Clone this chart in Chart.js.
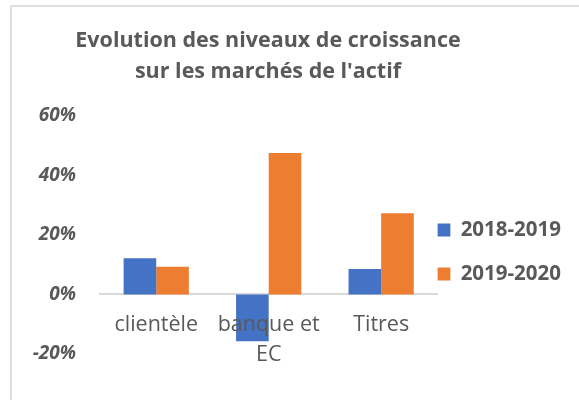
<!DOCTYPE html>
<html>
<head>
<meta charset="utf-8">
<script src="https://cdn.jsdelivr.net/npm/chart.js@4/dist/chart.umd.min.js"></script>
<style>
    body { margin: 0; overflow: hidden; background: #fff; }
    #frame { position: absolute; left: 10px; top: 5px; width: 620px; height: 420px; border: 2px solid #e0e0e0; }
    /* canvas starts left of the window so the full-width title centres over the plot */
    #wrap { position: absolute; left: -35px; top: 0; width: 614px; height: 400px; }
</style>
</head>
<body>
<div id="frame"></div>
<div id="wrap"><canvas id="growthChart"></canvas></div>
<script>
const categories = ["clientèle", ["banque et", "EC"], "Titres"];
const seriesNames = ["2018-2019", "2019-2020"];
const growth1819 = [12.2, -15.7, 8.6];
const growth1920 = [9.3, 47.5, 27.3];
const yTicks = [-20, 0, 20, 40, 60];

const textColor = "#595959";
const fontName = "'Open Sans'";

document.addEventListener("DOMContentLoaded", () => {
    const ctx = document.getElementById("growthChart").getContext("2d");

    new Chart(ctx, {
        type: "bar",
        data: {
            labels: categories,
            datasets: [
                { label: seriesNames[0], data: growth1819, backgroundColor: "#4472C4" },
                { label: seriesNames[1], data: growth1920, backgroundColor: "#ED7D31" }
            ]
        },
        options: {
            responsive: true,
            maintainAspectRatio: false,
            animation: false,
            layout: { padding: { left: 0, right: 8, top: 1, bottom: 46 } },
            datasets: { bar: { categoryPercentage: 0.58, barPercentage: 1.0 } },
            scales: {
                x: {
                    position: { y: 0 },
                    grid: { display: false, drawTicks: false },
                    border: { display: true, color: "#d9d9d9", width: 2 },
                    ticks: {
                        z: 1, // labels sit on top of the negative bar
                        color: textColor,
                        padding: 15,
                        maxRotation: 0,
                        font: { family: fontName, size: 21.5, lineHeight: 1.4 }
                    }
                },
                y: {
                    min: yTicks[0],
                    max: yTicks[yTicks.length - 1],
                    grid: { display: false, drawTicks: false },
                    border: { display: false },
                    afterBuildTicks: scale => { scale.ticks = yTicks.map(v => ({ value: v })); },
                    afterFit: scale => { scale.width = 135; },
                    ticks: {
                        color: textColor,
                        padding: 24,
                        callback: v => v + "%",
                        font: { family: fontName, size: 19, weight: "bold", style: "italic" }
                    }
                }
            },
            plugins: {
                title: {
                    display: true,
                    text: ["Evolution des niveaux de croissance", "sur les marchés de l'actif"],
                    color: textColor,
                    padding: { top: 24, bottom: 29 },
                    font: { family: fontName, size: 21.5, weight: "bold", lineHeight: 1.44 }
                },
                legend: {
                    position: "right",
                    align: "center",
                    fullSize: false,
                    title: { display: true, text: "", padding: { top: 43, bottom: 0 }, font: { size: 12, lineHeight: 1.2 } },
                    labels: {
                        color: textColor,
                        boxWidth: 13,
                        boxHeight: 13,
                        padding: 0,
                        font: { family: fontName, size: 20.5, weight: "bold", lineHeight: 2.146 },
                        generateLabels: chart =>
                            Chart.defaults.plugins.legend.labels.generateLabels(chart)
                                .map(item => ({ ...item, text: [item.text] }))
                    }
                },
                tooltip: { enabled: false }
            }
        }
    });
});
</script>
</body>
</html>
